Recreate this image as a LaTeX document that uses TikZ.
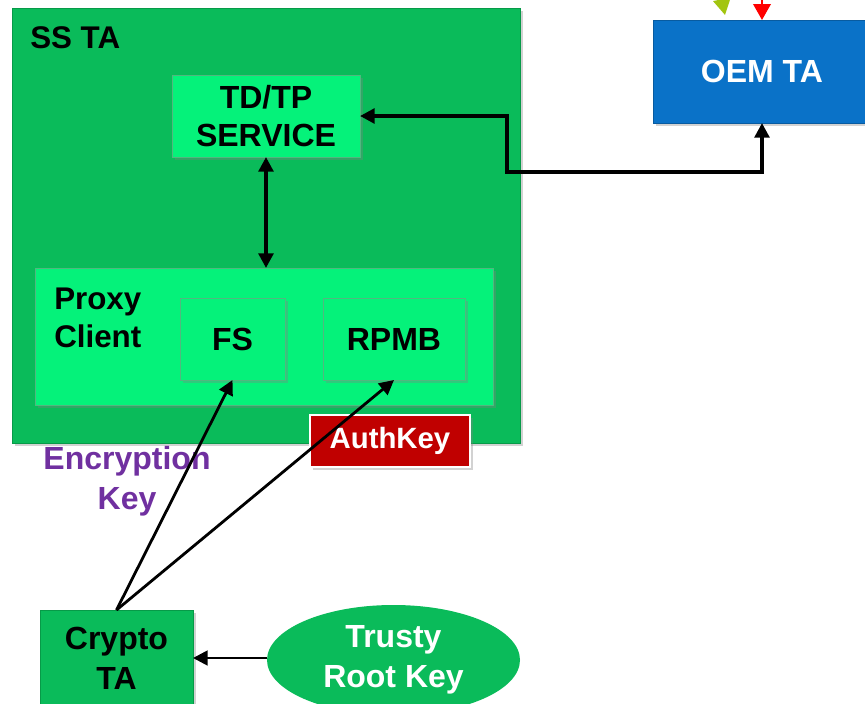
\documentclass[tikz,border=0pt]{standalone}
\usepackage{fontspec}
\setmainfont{Liberation Sans}
\usetikzlibrary{arrows.meta, positioning, shapes.geometric, shadows}
\definecolor{ssGreen}{HTML}{0ABB5A}
\definecolor{liteGreen}{HTML}{05F27A}
\definecolor{edgeGreen}{HTML}{079A48}
\definecolor{oemBlue}{HTML}{0A72C8}
\definecolor{keyRed}{HTML}{C00000}
\definecolor{keyPurple}{HTML}{7030A0}
\definecolor{oliveGreen}{HTML}{A2C510}
\definecolor{arrowRed}{HTML}{FF0000}
\tikzset{
  arrowK/.style={{Triangle[length=11pt, width=11pt]}-{Triangle[length=11pt, width=11pt]}, black, line width=2.7pt},
  arrowS/.style={-{Triangle[length=11pt, width=11pt]}, black, line width=2.1pt},
  shade/.style={drop shadow={shadow xshift=2pt, shadow yshift=-2pt, opacity=0.35}},
  boxSS/.style={rectangle, fill=ssGreen, draw=edgeGreen, line width=0.6pt, shade,
                inner sep=0pt, outer sep=0pt},
  boxLite/.style={rectangle, fill=liteGreen, draw=edgeGreen!70, line width=0.6pt, shade,
                  inner sep=0pt, outer sep=0pt, align=center,
                  font=\bfseries\fontsize{24}{28.5}\selectfont},
  boxBlue/.style={rectangle, fill=oemBlue, draw=oemBlue!80!black, line width=0.6pt, shade,
                  inner sep=0pt, outer sep=0pt, text=white,
                  font=\bfseries\fontsize{24}{28.5}\selectfont},
  boxRed/.style={rectangle, fill=keyRed, draw=white, line width=1pt, shade,
                 inner sep=0pt, outer sep=0pt, text=white,
                 font=\bfseries\fontsize{22}{26}\selectfont},
  boxCrypto/.style={rectangle, fill=ssGreen, draw=edgeGreen, line width=0.6pt, shade,
                    inner sep=0pt, outer sep=0pt, align=center,
                    font=\bfseries\fontsize{24}{30}\selectfont},
  rootOval/.style={ellipse, fill=ssGreen, draw=none, inner sep=0pt, outer sep=0pt,
                   text=white, align=center, font=\bfseries\fontsize{24}{30}\selectfont},
}

\begin{document}
\begin{tikzpicture}[x=0.75pt, y=-0.75pt]
  \useasboundingbox[fill=white] (0,0) rectangle (865,704);

  % secure storage TA
  \node[boxSS, minimum width=381pt, minimum height=326.25pt] (ssta) at (266,225.5) {};
  \node[anchor=west, inner sep=0pt, font=\bfseries\fontsize{23.5}{28}\selectfont] (sslbl) at (30,38) {SS TA};
  \node[boxLite, minimum width=141pt, minimum height=61.5pt] (tdtp) at (266,116) {TD/TP\\SERVICE};
  \node[boxLite, minimum width=343.5pt, minimum height=102.75pt] (proxy) at (264,336.5) {};
  \node[anchor=west, inner sep=0pt, align=left, font=\bfseries\fontsize{23.5}{28}\selectfont] (proxylbl) at (54,318) {Proxy\\Client};
  \node[boxLite, minimum width=78.75pt, minimum height=61.5pt] (fs) at (232.5,339) {FS};
  \node[boxLite, minimum width=106.5pt, minimum height=61.5pt] (rpmb) at (394,339) {RPMB};
  \node[boxRed, minimum width=120pt, minimum height=39pt] (auth) at (390,441) {AuthKey};

  % OEM side, cut at the page edge
  \node[boxBlue, minimum width=163.5pt, minimum height=77.25pt] (oem) at (762,71.5) {OEM TA};
  \coordinate (redin) at (762,-30);
  \coordinate (olivein) at (716,-30);
  \draw[-{Triangle[length=12pt, width=13pt]}, arrowRed, line width=2pt] (redin) -- (oem.north);
  \draw[-{Triangle[length=12pt, width=13pt]}, oliveGreen, line width=2pt] (olivein) -- (725,15);

  % keys
  \node[boxCrypto, minimum width=114.75pt, minimum height=72pt] (crypto) at (116.5,658) {Crypto\\TA};
  \node[rootOval, minimum width=189.75pt, minimum height=82.5pt] (root) at (393.5,660) {Trusty\\Root Key};
  \node[text=keyPurple, align=center, inner sep=0pt, font=\bfseries\fontsize{24}{30}\selectfont] (enclbl) at (127,481) {Encryption\\Key};

  \draw[arrowK] (tdtp.south) -- (proxy.north -| tdtp.south);
  \draw[arrowK] (oem.south) |- (507,172) |- (tdtp.east);
  \draw[arrowS] (crypto.north) -- (fs.south);
  \draw[arrowS] (crypto.north) -- (rpmb.south);
  \draw[arrowS] (root.west |- crypto.east) -- (crypto.east);
\end{tikzpicture}
\end{document}
